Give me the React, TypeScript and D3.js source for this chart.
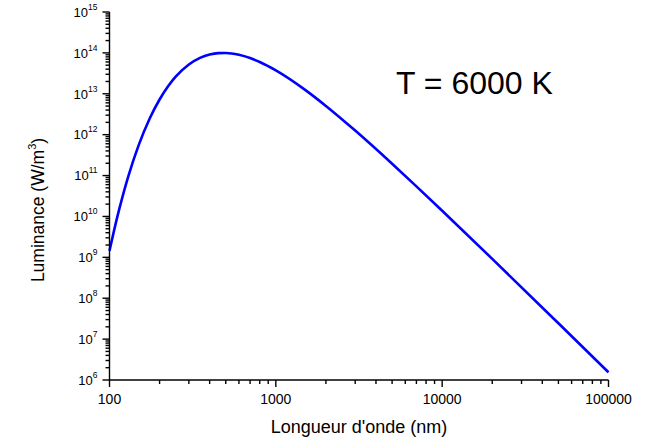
import React from "react";
import * as d3 from "d3";

// Wavelength (nm) and luminance (W/m^3) (T = 6000 K)
const wavelengths = [100, 110, 120, 130, 150, 175, 200, 225, 250, 300, 350, 400, 450, 500, 600, 700, 800, 1000, 1500, 2000, 3000, 5000, 7000, 10000, 20000, 50000, 100000];
const luminance = [1.441e9, 7.916e9, 3.153e10, 9.826e10, 5.617e11, 2.551e12, 7.256e12, 1.5257e13, 2.616e13, 5.204e13, 7.548e13, 9.126e13, 9.882e13, 9.978e13, 9.006e13, 7.483e13, 6.001e13, 3.742e13, 1.2487e13, 5.047e12, 1.258e12, 1.9457e11, 5.449e10, 1.3807e10, 9.18e8, 2.437e7, 1.5418e6];

const xTickValues = [100, 1000, 10000, 100000];
const xTickLabels = ["100", "1000", "10000", "100000"];
const yExponents = [6, 7, 8, 9, 10, 11, 12, 13, 14, 15];

const annotation = "T = 6000 K";
const xTitle = "Longueur d'onde (nm)";
const yTitle = "Luminance (W/m";

const W = 658;
const H = 441;
const left = 109.5;
const right = 608.5;
const top = 12;
const bottom = 380;
const FONT = "'Liberation Sans', Arial, Helvetica, sans-serif";

export default function App() {
  const x = d3.scaleLog().domain([100, 100000]).range([left, right]);
  const y = d3.scaleLog().domain([1e6, 1e15]).range([bottom, top]);

  const pts = wavelengths.map((w, i) => [w, luminance[i]] as [number, number]);
  const line = d3
    .line<[number, number]>()
    .x((d) => x(d[0]))
    .y((d) => y(d[1]))
    .curve(d3.curveMonotoneX);

  // minor ticks
  const xMinor: number[] = [];
  for (let e = 2; e < 5; e++) for (let m = 2; m <= 9; m++) xMinor.push(m * Math.pow(10, e));
  const yMinor: number[] = [];
  for (let e = 6; e < 15; e++) for (let m = 2; m <= 9; m++) yMinor.push(m * Math.pow(10, e));

  return (
    <svg
      width={W}
      height={H}
      style={{ position: "fixed", left: 0, top: 0, background: "#fff" }}
      fontFamily={FONT}
    >
      <rect x={0} y={0} width={W} height={H} fill="#fff" />
      {/* curve */}
      <path d={line(pts) || ""} fill="none" stroke="#0000ff" strokeWidth={2.6} strokeLinejoin="round" />

      {/* axes */}
      <g stroke="#000" strokeWidth={1.4}>
        <line x1={left} x2={left} y1={top} y2={bottom} />
        <line x1={left} x2={right} y1={bottom} y2={bottom} />
        {xTickValues.map((v) => (
          <line key={"xM" + v} x1={x(v)} x2={x(v)} y1={bottom} y2={bottom + 7} />
        ))}
        {xMinor.map((v) => (
          <line key={"xm" + v} x1={x(v)} x2={x(v)} y1={bottom} y2={bottom + 4} />
        ))}
        {yExponents.map((e) => (
          <line key={"yM" + e} x1={left - 7} x2={left} y1={y(Math.pow(10, e))} y2={y(Math.pow(10, e))} />
        ))}
        {yMinor.map((v) => (
          <line key={"ym" + v} x1={left - 4} x2={left} y1={y(v)} y2={y(v)} />
        ))}
      </g>

      {/* x tick labels */}
      {xTickValues.map((v, i) => (
        <text key={"xl" + v} x={x(v)} y={bottom + 23.5} fontSize={14} textAnchor="middle" fill="#000">
          {xTickLabels[i]}
        </text>
      ))}

      {/* y tick labels */}
      {yExponents.map((e) => (
        <text key={"yl" + e} x={97.5} y={y(Math.pow(10, e)) + 4.8} fontSize={13} textAnchor="end" fill="#000">
          10
          <tspan fontSize={8.5} dy={-7}>
            {e}
          </tspan>
        </text>
      ))}

      {/* axis titles */}
      <text x={(left + right) / 2} y={433} fontSize={18} textAnchor="middle" fill="#000">
        {xTitle}
      </text>
      <text transform={`translate(44, ${(top + bottom) / 2 + 14}) rotate(-90)`} fontSize={17.5} textAnchor="middle" fill="#000">
        {yTitle}
        <tspan fontSize={11} dy={-8}>3</tspan>
        <tspan dy={8}>)</tspan>
      </text>

      {/* annotation */}
      <text x={396} y={94} fontSize={32} fill="#000">
        {annotation}
      </text>
    </svg>
  );
}
